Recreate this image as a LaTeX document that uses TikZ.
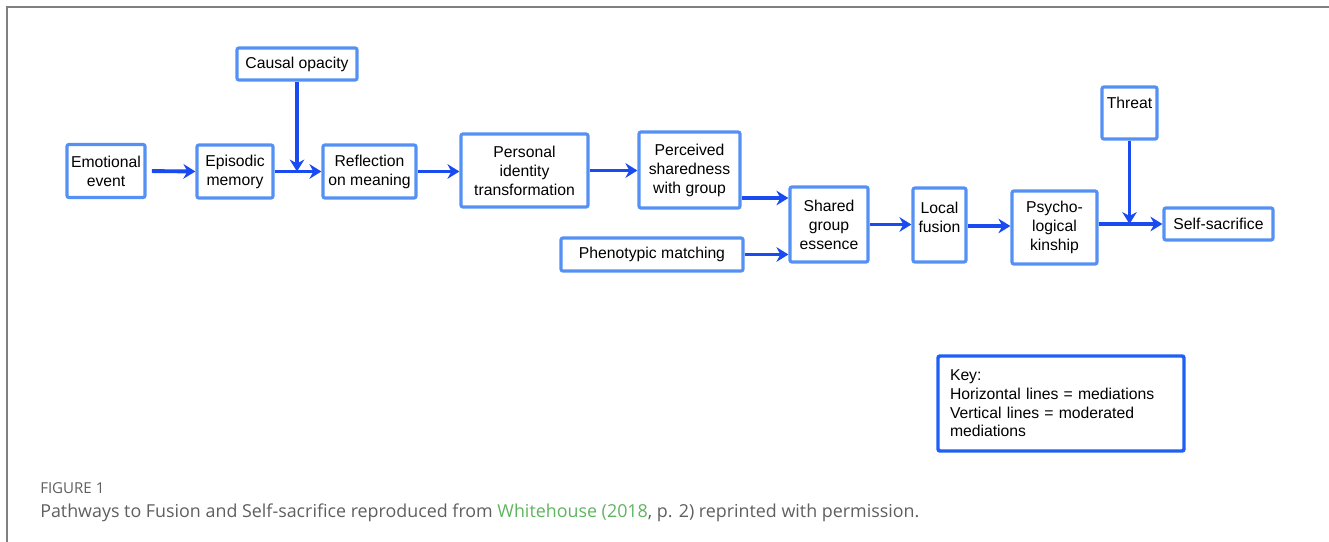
\documentclass[tikz,border=0pt]{standalone}
\usepackage{fontspec}
\setmainfont{Liberation Sans}
\newfontfamily\capfont{Open Sans}
\usepackage{xcolor}
\usetikzlibrary{arrows.meta}

\definecolor{boxblue}{RGB}{85,145,245}
\definecolor{arrblue}{RGB}{25,75,240}
\definecolor{keyblue}{RGB}{30,95,245}
\definecolor{capgray}{RGB}{95,95,95}
\definecolor{refgreen}{RGB}{95,180,95}

\tikzset{
  box/.style={draw=boxblue, line width=2.4pt, rounded corners=1.5pt, fill=white,
    align=center, inner sep=2pt, font=\fontsize{11.8}{14.25}\selectfont},
  keybox/.style={draw=keyblue, line width=2.6pt, rounded corners=1.5pt, fill=white,
    align=left, inner xsep=9pt, font=\fontsize{11.8}{14}\selectfont},
  arr/.style={draw=arrblue, line width=2.9pt, -{Stealth[length=9pt,width=11pt,inset=3pt]}}
}

\begin{document}
\begin{tikzpicture}[x=0.75pt, y=-0.75pt]
  \useasboundingbox (0,0) rectangle (1329,542);
  \draw[gray, line width=1pt] (7,542) -- (7,7) -- (1329,7);

  % boxes
  \node[box, minimum width=58.5pt, minimum height=39.75pt] (emo) at (106,171) {Emotional\\event};
  \node[box, minimum width=57pt, minimum height=39.75pt] (epi) at (235,171.5) {Episodic\\memory};
  \node[box, minimum width=90pt, minimum height=24pt] (causal) at (297,64) {Causal opacity};
  \node[box, minimum width=69.75pt, minimum height=39.75pt] (refl) at (369.5,171.5) {Reflection\\on meaning};
  \node[box, minimum width=95.25pt, minimum height=54.75pt] (pers) at (524.5,170.5) {Personal\\identity\\transformation};
  \node[box, minimum width=75.75pt, minimum height=57pt] (perc) at (689.5,170) {Perceived\\sharedness\\with group};
  \node[box, minimum width=58.5pt, minimum height=56.25pt] (shared) at (829,224.5) {Shared\\group\\essence};
  \node[box, minimum width=136.5pt, minimum height=24.75pt] (phen) at (652,254.5) {Phenotypic matching};
  \node[box, minimum width=39.75pt, minimum height=55.5pt, text depth=11pt] (local) at (939.5,225) {Local\\fusion};
  \node[box, minimum width=63.75pt, minimum height=54.75pt] (psy) at (1054.5,227.5) {Psycho-\\logical\\kinship};
  \node[box, minimum width=41.25pt, minimum height=39pt, text depth=15pt] (threat) at (1129.5,113) {Threat};
  \node[box, minimum width=81.75pt, minimum height=24pt] (self) at (1218.5,224) {Self-sacrifice};

  % key
  \node[keybox, minimum width=184.5pt, minimum height=71.25pt, text width=166.5pt] (key) at (1061,403.5)
    {Key:\\Horizontal lines = mediations\\Vertical lines = moderated\\mediations};

  % mediations
  \draw[arr, shorten <=4pt] (emo.east) -- (epi.west);
  \draw[arr] (epi.east) -- (refl.west |- epi.east);
  \draw[arr] (refl.east) -- (pers.west |- refl.east);
  \draw[arr] (pers.east) -- (perc.west |- pers.east);
  \draw[arr] (perc.east |- 0,198) -- (shared.west |- 0,198);
  \draw[arr] (phen.east) -- (shared.west |- phen.east);
  \draw[arr] (shared.east) -- (local.west |- shared.east);
  \draw[arr] (local.east |- 0,226) -- (psy.west |- 0,226);
  \draw[arr] (psy.east |- self.west) -- (self.west);

  % moderations
  \draw[arr] (causal.south) -- (causal.south |- epi.east);
  \draw[arr] (threat.south) -- (threat.south |- self.west);

  % caption
  \node[anchor=base west, inner sep=0pt, text=capgray, font=\capfont\fontsize{11.3}{13}\selectfont] (figlabel) at (40,493) {FIGURE 1};
  \node[anchor=base west, inner sep=0pt, text=capgray, font=\capfont\fontsize{13.4}{16}\selectfont] (caption) at (40,517)
    {Pathways to Fusion and Self-sacrifice reproduced from \textcolor{refgreen}{Whitehouse (2018}, p. 2) reprinted with permission.};
\end{tikzpicture}
\end{document}
